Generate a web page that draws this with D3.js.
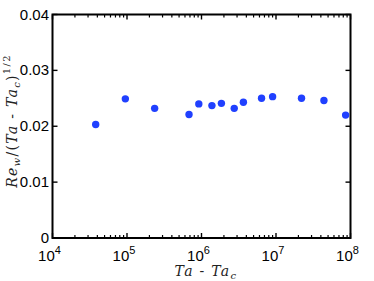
<!DOCTYPE html>
<html>
<head>
<meta charset="utf-8">
<script src="https://cdn.jsdelivr.net/npm/d3@7"></script>
<style>
body { margin: 0; background: #fff; }
svg { display: block; }
.tick-label { font-family: 'Liberation Sans', Arial, sans-serif; font-size: 15px; fill: #000; }
.axis-title { font-family: 'DejaVu Serif', 'Liberation Serif', serif; font-style: italic; font-size: 14px; fill: #222; letter-spacing: 1.3px; }
</style>
</head>
<body>
<div id="plot"></div>
<script>
// Ta - Ta_c values and Re_w/(Ta - Ta_c)^(1/2)
var taDiff = [3.8e4, 9.5e4, 2.35e5, 6.8e5, 9.2e5, 1.38e6, 1.85e6, 2.75e6, 3.65e6, 6.4e6, 9.0e6, 2.2e7, 4.4e7, 8.6e7];
var reRatio = [0.0203, 0.0249, 0.0232, 0.0221, 0.0240, 0.0237, 0.0241, 0.0232, 0.0243, 0.0250, 0.0253, 0.0250, 0.0246, 0.0220];
var xTicks = [1e4, 1e5, 1e6, 1e7, 1e8];
var xTickExp = ["4", "5", "6", "7", "8"];
var yTicks = [0, 0.01, 0.02, 0.03, 0.04];
var yTickLabels = ["0", "0.01", "0.02", "0.03", "0.04"];

var width = 374, height = 281;
var pLeft = 52.5, pRight = 350.5, pTop = 14.5, pBottom = 238;

var svg = d3.select("#plot").append("svg")
  .attr("width", width).attr("height", height);

var x = d3.scaleLog().domain([1e4, 1e8]).range([pLeft, pRight]);
var y = d3.scaleLinear().domain([0, 0.04]).range([pBottom, pTop]);

// minor ticks for the log axis
var minor = [];
for (var e = 4; e < 8; e++) {
  for (var m = 2; m <= 9; m++) minor.push(m * Math.pow(10, e));
}

var g = svg.append("g").attr("stroke", "#000").attr("fill", "none");

// x ticks bottom and top (inward)
xTicks.forEach(function (t) {
  g.append("line").attr("x1", x(t)).attr("x2", x(t)).attr("y1", pBottom).attr("y2", pBottom - 5).attr("stroke-width", 1.4);
  g.append("line").attr("x1", x(t)).attr("x2", x(t)).attr("y1", pTop).attr("y2", pTop + 5).attr("stroke-width", 1.4);
});
minor.forEach(function (t) {
  g.append("line").attr("x1", x(t)).attr("x2", x(t)).attr("y1", pBottom).attr("y2", pBottom - 3).attr("stroke-width", 1.2);
  g.append("line").attr("x1", x(t)).attr("x2", x(t)).attr("y1", pTop).attr("y2", pTop + 3).attr("stroke-width", 1.2);
});
// y ticks left and right (inward)
yTicks.forEach(function (t) {
  g.append("line").attr("x1", pLeft).attr("x2", pLeft + 5).attr("y1", y(t)).attr("y2", y(t)).attr("stroke-width", 1.4);
  g.append("line").attr("x1", pRight).attr("x2", pRight - 5).attr("y1", y(t)).attr("y2", y(t)).attr("stroke-width", 1.4);
});

// frame
g.append("rect").attr("x", pLeft).attr("y", pTop)
  .attr("width", pRight - pLeft).attr("height", pBottom - pTop)
  .attr("stroke-width", 2);

// y axis title (drawn under the tick labels)
var yt = svg.append("text").attr("class", "axis-title")
  .attr("transform", "translate(17," + 121 + ") rotate(-90)")
  .attr("text-anchor", "middle");
yt.append("tspan").text("Re");
yt.append("tspan").attr("dy", 3).attr("font-size", "10px").text("w");
yt.append("tspan").attr("dy", -3).attr("font-style", "normal").text("/(");
yt.append("tspan").text("Ta");
yt.append("tspan").attr("font-style", "normal").text(" - ");
yt.append("tspan").text("Ta");
yt.append("tspan").attr("dy", 3).attr("font-size", "10px").text("c");
yt.append("tspan").attr("dy", -3).attr("font-style", "normal").text(")");
yt.append("tspan").attr("dy", -7).attr("font-size", "10px").attr("font-style", "normal").text("1/2");

// y tick labels
svg.selectAll("text.ylab").data(yTicks).enter().append("text")
  .attr("class", "tick-label ylab")
  .attr("x", pLeft - 3.5).attr("y", d => y(d) + 5)
  .attr("text-anchor", "end")
  .text((d, i) => yTickLabels[i]);

// x tick labels 10^n
xTicks.forEach(function (t, i) {
  var tx = svg.append("text").attr("class", "tick-label")
    .attr("x", x(t) - 3).attr("y", 261).attr("text-anchor", "middle");
  tx.append("tspan").text("10");
  tx.append("tspan").attr("dy", -7).attr("font-size", "11px").text(xTickExp[i]);
});

// points
svg.selectAll("circle").data(taDiff).enter().append("circle")
  .attr("cx", d => x(d))
  .attr("cy", (d, i) => y(reRatio[i]))
  .attr("r", 3.7)
  .attr("fill", "#2040ff");

// x axis title
var xt = svg.append("text").attr("class", "axis-title")
  .attr("x", 206).attr("y", 276).attr("text-anchor", "middle");
xt.append("tspan").text("Ta");
xt.append("tspan").attr("font-style", "normal").text(" - ");
xt.append("tspan").text("Ta");
xt.append("tspan").attr("dy", 3).attr("font-size", "10px").text("c");
</script>
</body>
</html>
